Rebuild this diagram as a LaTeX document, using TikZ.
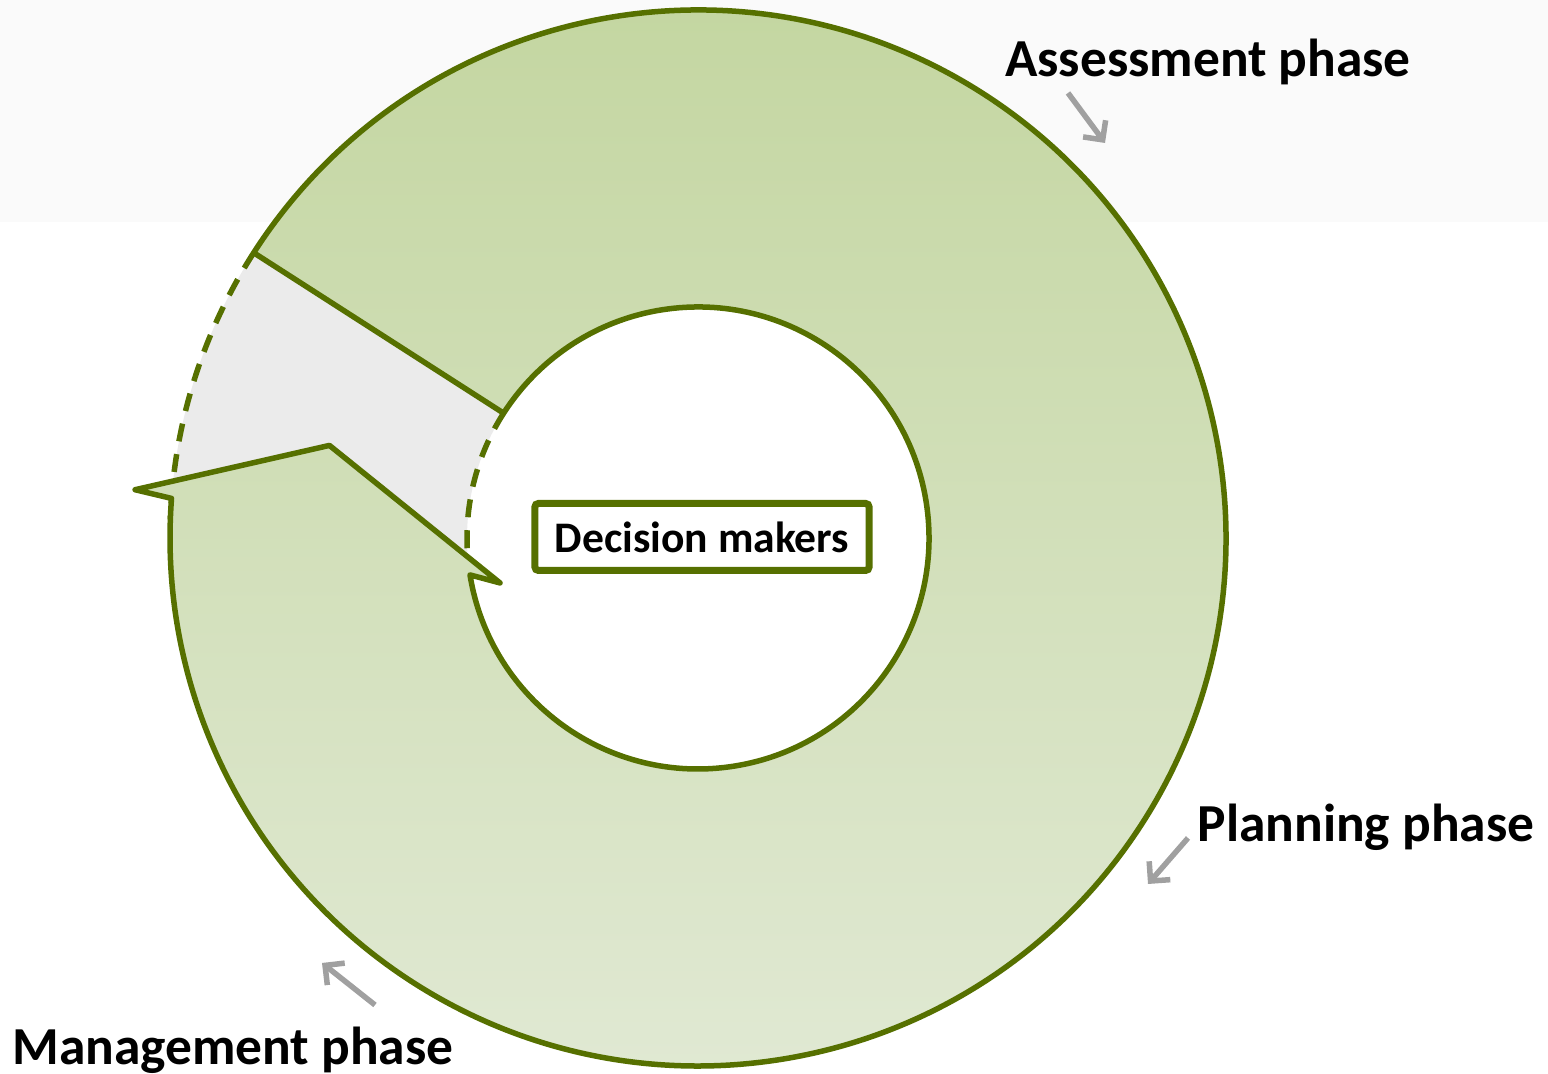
\documentclass[tikz,border=0pt]{standalone}
\usepackage{fontspec}
\setmainfont{Carlito}
\usetikzlibrary{arrows.meta}

\definecolor{ringline}{RGB}{86,112,0}
\definecolor{ringtop}{RGB}{194,213,158}
\definecolor{ringbot}{RGB}{226,234,214}
\definecolor{gapgray}{RGB}{235,235,235}
\definecolor{bandgray}{RGB}{250,250,250}
\definecolor{pointgray}{RGB}{160,160,160}

\begin{document}
\begin{tikzpicture}[x=0.01cm, y=0.01cm,
    phase/.style={font=\fontsize{15.2}{18}\selectfont\bfseries, anchor=base},
    pointer/.style={draw=pointgray, line width=0.055cm, -{Straight Barb[length=0.14cm, width=0.28cm]}},
    dashedarc/.style={draw=ringline, line width=0.055cm, dash pattern=on 0.18cm off 0.13cm}]
    \useasboundingbox (0,0) rectangle (1548,1074);

    % light band at the top
    \fill[bandgray] (0,852) rectangle (1548,1074);

    % ring
    \begin{scope}[shift={(698,536)}]
    % the open gap
    \fill[gapgray] (147.3:528) arc[start angle=147.3, end angle=195, radius=528]
        -- (195:231) arc[start angle=195, end angle=147.3, radius=231] -- cycle;
    \draw[dashedarc] (147.3:528) arc[start angle=147.3, end angle=178, radius=528];
    \draw[dashedarc] (147.3:231) arc[start angle=147.3, end angle=188, radius=231];
    % the ring with its arrow head
    \path[draw=ringline, line width=0.055cm, line join=round, top color=ringtop, bottom color=ringbot]
        (147.3:528) arc[start angle=147.3, end angle=-184.3, radius=528]
        -- (175.1:565) -- (165.9:380) -- (-167.2:203) -- (-170.8:231)
        arc[start angle=-170.8, end angle=147.3, radius=231] -- cycle;
    \end{scope}

    % centre
    \node[draw=ringline, line width=0.07cm, rounded corners=1pt, fill=white,
        minimum width=3.34cm, minimum height=0.67cm,
        font=\fontsize{12.4}{15}\selectfont\bfseries] (deciders) at (702,537) {Decision makers};

    % phase labels
    \node[phase] (assess) at (1208,997) {Assessment phase};
    \node[phase] (plan) at (1366,232) {Planning phase};
    \node[phase] (manage) at (233,9) {Management phase};

    % pointers
    \coordinate (assessTail) at (1068,981);
    \coordinate (assessTip) at (1105,931);
    \coordinate (planTail) at (1188,236);
    \coordinate (planTip) at (1148,190);
    \coordinate (manageTail) at (375,69);
    \coordinate (manageTip) at (322,111);
    \draw[pointer] (assessTail) -- (assessTip);
    \draw[pointer] (planTail) -- (planTip);
    \draw[pointer] (manageTail) -- (manageTip);
\end{tikzpicture}
\end{document}
